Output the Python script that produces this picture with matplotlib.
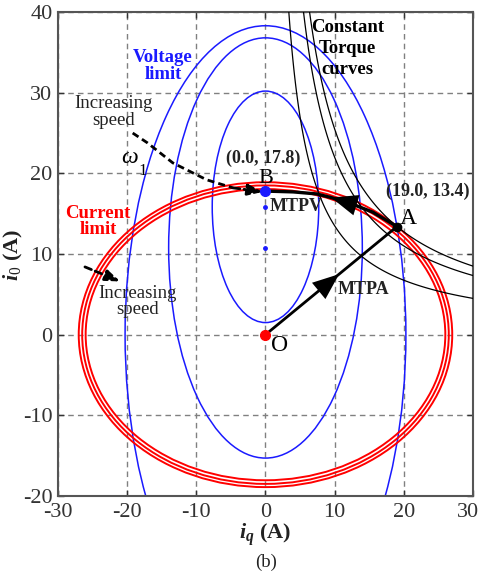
import numpy as np
import matplotlib
matplotlib.use('Agg')
import matplotlib.pyplot as plt
import matplotlib.transforms as mtrans
from matplotlib.patches import Ellipse

plt.rcParams['font.family'] = ['Liberation Serif', 'DejaVu Serif']
plt.rcParams['axes.unicode_minus'] = False
plt.rcParams['mathtext.fontset'] = 'custom'
plt.rcParams['mathtext.rm'] = 'Liberation Serif'
plt.rcParams['mathtext.it'] = 'Liberation Serif:italic:bold'
plt.rcParams['mathtext.bf'] = 'Liberation Serif:bold'

# limites de tensao (elipses): centro no eixo vertical e semi-eixos
volt_cy = [15.85, 10.75, 0.0]
volt_ax = [7.7, 14.0, 20.3]
volt_ay = [14.35, 26.05, 38.3]

# limites de corrente (tres elipses centradas na origem)
cur_ax = [26.0, 26.5, 27.0]
cur_ay = [18.05, 18.5, 18.9]

# curvas de torque constante (iq * id)
torque_levels = [135, 220, 255]

# trajetoria MTPA / MTPV
mtpa_x = [0.0, 19.0]
mtpa_y = [0.0, 13.4]
mtpv_x = [19.0, 15.5, 12.2, 9.5, 7.4, 4.0, 0.0]
mtpv_y = [13.4, 15.2, 16.3, 17.0, 17.45, 17.7, 17.8]

# seta tracejada "increasing speed"
speed_x = [-19.2, -17.1, -13.4, -8.5, -4.7, -0.4]
speed_y = [25.0, 23.8, 21.3, 19.2, 18.2, 17.7]
speed2_x = [-26.1, -21.0]
speed2_y = [8.4, 6.6]

# pontos marcados
mtpv_dots_y = [15.8, 10.8]
pt_O = (0.0, 0.0)
pt_A = (19.0, 13.4)
pt_B = (0.0, 17.8)

fig = plt.figure(figsize=(4.82, 5.73), dpi=100)
ax = fig.add_axes([0.1203, 0.1344, 0.8610, 0.8446])

ax.set_xlim(-30, 30)
ax.set_ylim(-20, 40)
ax.set_xticks(range(-30, 31, 10))
ax.set_yticks(range(-20, 41, 10))
ax.grid(True, color='#808080', linestyle=(0, (4, 3)), linewidth=1.0)
ax.set_axisbelow(True)
ax.tick_params(direction='in', length=4, width=1, top=True, right=True,
               labelsize=16, colors='#333333', pad=4)
ax.tick_params(axis='x', pad=5)
for s in ax.spines.values():
    s.set_color('#555555')
    s.set_linewidth(1.5)
# ultimo rotulo do eixo x fica colado na borda
fig.canvas.draw()
lab = ax.get_xticklabels()[-1]
lab.set_transform(lab.get_transform() + mtrans.ScaledTranslation(-5 / 100, 0, fig.dpi_scale_trans))

arrow_head = dict(arrowstyle='-|>,head_length=1.0,head_width=0.4', color='k', lw=0,
                  mutation_scale=19, shrinkA=0, shrinkB=0)

# elipses de tensao
for cy, a, b in zip(volt_cy, volt_ax, volt_ay):
    ax.add_patch(Ellipse((0, cy), 2 * a, 2 * b, fill=False, color='#1a1aff', lw=1.1, zorder=2))

# elipses de corrente
for a, b in zip(cur_ax, cur_ay):
    ax.add_patch(Ellipse((0, 0), 2 * a, 2 * b, fill=False, color='#ff0000', lw=1.4, zorder=3))

# torque constante
X, Y = np.meshgrid(np.linspace(0.5, 31, 500), np.linspace(0.5, 41, 500))
ax.contour(X, Y, X * Y, levels=torque_levels, colors='k', linewidths=0.9, zorder=4)

# MTPA
ax.plot(mtpa_x, mtpa_y, color='k', lw=2.0, zorder=5)
mx = mtpa_x[0] + 0.56 * (mtpa_x[1] - mtpa_x[0])
my = mtpa_y[0] + 0.56 * (mtpa_y[1] - mtpa_y[0])
bx = mtpa_x[0] + 0.40 * (mtpa_x[1] - mtpa_x[0])
by = mtpa_y[0] + 0.40 * (mtpa_y[1] - mtpa_y[0])
ax.annotate('', xy=(mx, my), xytext=(bx, by), arrowprops=arrow_head, zorder=6)

# MTPV
ax.plot(mtpv_x, mtpv_y, color='k', lw=2.4, zorder=5)
ax.annotate('', xy=(mtpv_x[3], mtpv_y[3]), xytext=(mtpv_x[2], mtpv_y[2]),
            arrowprops=arrow_head, zorder=6)

# setas tracejadas
dash_head = dict(arrowstyle='-|>,head_length=0.8,head_width=0.3', color='k', lw=2.0,
                 linestyle=(0, (2.5, 1.5)), mutation_scale=11, shrinkA=0, shrinkB=0)
ax.plot(speed_x[:-1], speed_y[:-1], color='k', lw=2.0, linestyle=(0, (2.5, 1.5)), zorder=6)
ax.annotate('', xy=(speed_x[-1], speed_y[-1]), xytext=(speed_x[-2], speed_y[-2]),
            arrowprops=dash_head, zorder=6)
ax.annotate('', xy=(speed2_x[1], speed2_y[1]), xytext=(speed2_x[0], speed2_y[0]),
            arrowprops=dash_head, zorder=6)

# pontos
ax.plot([0] * len(mtpv_dots_y), mtpv_dots_y, 'o', color='#1a1aff', ms=2.5, zorder=7)
ax.plot(*pt_O, 'o', color='#ff0000', ms=7, zorder=7)
ax.plot(*pt_B, 'o', color='#1a1aff', ms=7, zorder=7)
ax.plot(*pt_A, 'o', color='k', ms=6, zorder=7)

# textos
ax.text(-14.8, 33.3, 'Voltage\nlimit', color='#1a1aff', fontsize=13.5, fontweight='bold',
        ha='center', va='center', linespacing=0.95)
ax.text(11.9, 35.5, 'Constant\nTorque\ncurves', color='k', fontsize=13.5, fontweight='bold',
        ha='center', va='center', linespacing=1.3)
ax.text(-24.2, 14.0, 'Current\nlimit', color='#ff0000', fontsize=13.5, fontweight='bold',
        ha='center', va='center', linespacing=0.95)
ax.text(-21.9, 27.6, 'Increasing\nspeed', color='#222222', fontsize=13.5,
        ha='center', va='center', linespacing=0.95)
ax.text(-18.5, 4.1, 'Increasing\nspeed', color='#222222', fontsize=13.5,
        ha='center', va='center', linespacing=0.95)
ax.text(-19.7, 22.0, 'ω', color='k', fontsize=17, fontstyle='italic', ha='center', va='center')
ax.text(-17.7, 20.3, '1', color='k', fontsize=12, ha='center', va='center')
ax.text(-0.4, 21.8, '(0.0, 17.8)', color='#222222', fontsize=13, fontweight='bold',
        ha='center', va='center')
ax.text(0.06, 19.4, 'B', color='k', fontsize=16, ha='center', va='center', zorder=8)
ax.text(23.4, 17.8, '(19.0, 13.4)', color='#222222', fontsize=13, fontweight='bold',
        ha='center', va='center')
ax.text(20.7, 14.35, 'A', color='k', fontsize=17, ha='center', va='center', zorder=8)
ax.text(2.1, -1.3, 'O', color='k', fontsize=17, ha='center', va='center', zorder=8)
ax.text(0.65, 15.9, 'MTPV', color='#222222', fontsize=13, fontweight='bold',
        ha='left', va='center', zorder=8)
ax.text(14.1, 5.55, 'MTPA', color='#222222', fontsize=13, fontweight='bold',
        ha='center', va='center', zorder=8)

fig.text(265 / 482, 1 - 535 / 573, r'$i_q$ (A)', fontsize=16, fontweight='bold',
         ha='center', va='center', color='#222222')
fig.text(13 / 482, 1 - 255 / 573, r'$i_0$ (A)', fontsize=16, fontweight='bold',
         ha='center', va='center', rotation=90, color='#222222')
fig.text(266 / 482, 1 - 562 / 573, '(b)', fontsize=13.5, ha='center', va='center', color='#222222')

fig.savefig('out.png', dpi=100)
